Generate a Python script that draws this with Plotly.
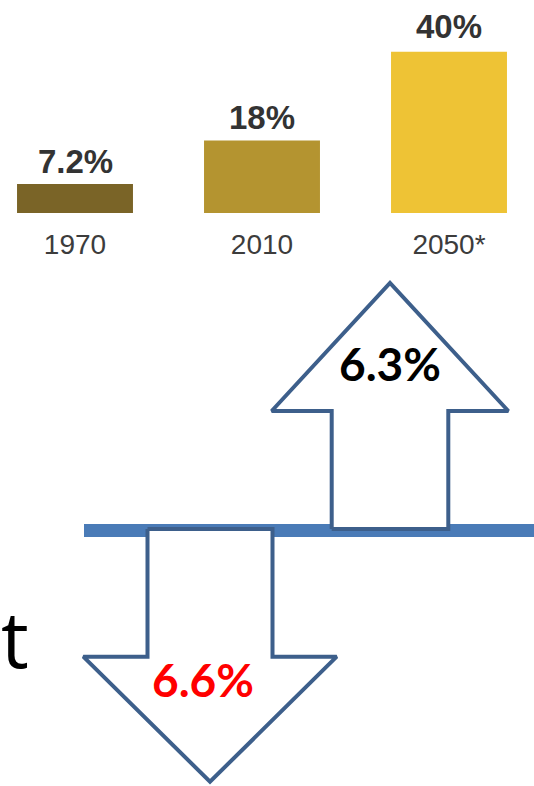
import plotly.graph_objects as go

# ---- data ----
years = ["1970", "2010", "2050*"]
shares = [7.2, 18, 40]
share_labels = ["7.2%", "18%", "40%"]
bar_colors = ["#7a6427", "#b49430", "#eec335"]

changes = [6.3, -6.6]
change_labels = ["6.3%", "6.6%"]
change_colors = ["#000000", "#ff0000"]

# ---- layout constants (pixels) ----
W, H = 534, 786
BASE_PX = 213          # bar baseline
PX_PER_UNIT = 4.03     # pixels per % for bars
Y_MAX = 50
LINE_Y = 530.5
LINE_X0, LINE_X1 = 84, 534
ARROW_STROKE = "#3d5f8b"

# arrow geometry: centre x, shaft half width, head half width, head length, total length
arrow_geom = [
    dict(cx=390, shaft=58.3, head=118.3, head_len=128, length=246, base=529, label_x=390, label_y=363),
    dict(cx=210, shaft=62.5, head=126.7, head_len=125, length=252.7, base=529, label_x=203, label_y=679),
]

fig = go.Figure()

fig.add_trace(go.Bar(
    x=list(range(len(years))), y=shares,
    marker=dict(color=bar_colors, line=dict(width=0)),
    width=0.62, xaxis="x", yaxis="y", showlegend=False, hoverinfo="skip",
))

# horizontal line
fig.add_trace(go.Scatter(
    x=[LINE_X0, LINE_X1], y=[LINE_Y, LINE_Y], mode="lines",
    line=dict(color="#4a7bb7", width=13), xaxis="x2", yaxis="y2",
    showlegend=False, hoverinfo="skip",
))

def arrow_points(g, up):
    s = -1 if up else 1
    b = g["base"]
    neck = b + s * (g["length"] - g["head_len"])
    tip = b + s * g["length"]
    cx = g["cx"]
    xs = [cx - g["shaft"], cx - g["shaft"], cx - g["head"], cx, cx + g["head"], cx + g["shaft"], cx + g["shaft"], cx - g["shaft"]]
    ys = [b, neck, neck, tip, neck, neck, b, b]
    return xs, ys

annotations = []
for val, lab, col, g in zip(changes, change_labels, change_colors, arrow_geom):
    xs, ys = arrow_points(g, val > 0)
    fig.add_trace(go.Scatter(
        x=xs, y=ys, mode="lines", fill="toself", fillcolor="white",
        line=dict(color=ARROW_STROKE, width=4), xaxis="x2", yaxis="y2",
        showlegend=False, hoverinfo="skip",
    ))
    annotations.append(dict(
        x=g["label_x"], y=g["label_y"], xref="x2", yref="y2", text=f"<b>{lab}</b>",
        showarrow=False, font=dict(family="Lato", size=46, color=col),
        xanchor="center", yanchor="middle",
    ))

for i, (v, lab) in enumerate(zip(shares, share_labels)):
    annotations.append(dict(
        x=i, y=v, xref="x", yref="y", text=f"<b>{lab}</b>", showarrow=False,
        font=dict(family="Liberation Sans Narrow, Liberation Sans", size=33, color="#333333"),
        xanchor="center", yanchor="bottom", yshift=2 if v < 30 else 5,
    ))

annotations.append(dict(
    x=0, y=638, xref="x2", yref="y2", text="t", showarrow=False,
    font=dict(family="Open Sans", size=78, color="#000000"),
    xanchor="left", yanchor="middle", borderpad=0,
))

x_r0 = -75 / 187
x_r1 = x_r0 + W / 187
y_bot = 1 - BASE_PX / H
y_top = 1 - (BASE_PX - Y_MAX * PX_PER_UNIT) / H

fig.update_layout(
    width=W, height=H, margin=dict(l=0, r=0, t=0, b=0),
    paper_bgcolor="white", plot_bgcolor="rgba(0,0,0,0)",
    xaxis=dict(domain=[0, 1], range=[x_r0, x_r1], tickmode="array",
               tickvals=list(range(len(years))), ticktext=years,
               tickfont=dict(family="Liberation Sans Narrow, Liberation Sans", size=28, color="#3c3c3c"),
               showgrid=False, zeroline=False, showline=False, ticks="",
               ticklabelstandoff=12, anchor="y"),
    yaxis=dict(domain=[y_bot, y_top], range=[0, Y_MAX], visible=False, anchor="x"),
    xaxis2=dict(domain=[0, 1], range=[0, W], visible=False, anchor="y2"),
    yaxis2=dict(domain=[0, 1], range=[H, 0], visible=False, anchor="x2"),
    annotations=annotations,
)

fig.write_html(
    "out.html",
    config={"displayModeBar": False},
    post_script="document.body.style.margin='0';document.body.style.overflow='hidden';",
)
